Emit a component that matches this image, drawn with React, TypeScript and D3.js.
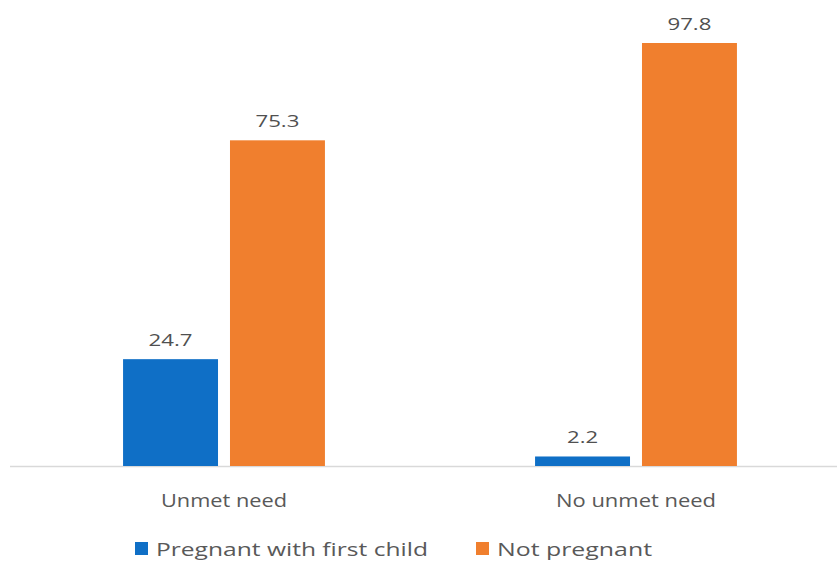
import React from "react";
import * as d3 from "d3";

const categories = ["Unmet need", "No unmet need"];
const seriesNames = ["Pregnant with first child", "Not pregnant"];
const pregnantValues = [24.7, 2.2];
const notPregnantValues = [75.3, 97.8];
const colors = ["#0F6FC6", "#F07F2E"];

export default function App() {
  const W = 837, H = 564;
  const baseY = 466;
  const x0 = d3.scaleBand().domain(categories).range([18, 842]).paddingInner(0.51).paddingOuter(0.255);
  const x1 = d3.scaleBand().domain(seriesNames).range([0, x0.bandwidth()]).paddingInner(0.112);
  const y = d3.scaleLinear().domain([0, 97.8]).range([baseY, 43]);
  const series = [pregnantValues, notPregnantValues];
  const font = "'Open Sans', sans-serif";
  const catWidths = [126, 160];
  return (
    <svg width={W} height={H} style={{ position: "absolute", left: 0, top: 0 }} fontFamily={font}>
      <rect width={W} height={H} fill="#fff" />
      <line x1={10} x2={837} y1={baseY + 0.5} y2={baseY + 0.5} stroke="#d9d9d9" strokeWidth={1.5} />
      {categories.map((c, ci) => (
        <g key={c} transform={`translate(${x0(c)},0)`}>
          {seriesNames.map((s, si) => {
            const v = series[si][ci];
            const bx = x1(s)!;
            const label = v.toFixed(1);
            const tw = label.length === 3 ? 31 : 44;
            return (
              <g key={s}>
                <rect x={bx} y={y(v)} width={x1.bandwidth()} height={baseY - y(v)} fill={colors[si]} />
                <text x={bx + x1.bandwidth() / 2 - tw / 2} y={y(v) - 13} fontSize={17} fill="#505050"
                  textLength={tw} lengthAdjust="spacingAndGlyphs">
                  {label}
                </text>
              </g>
            );
          })}
          <text x={x0.bandwidth() / 2 - catWidths[ci] / 2} y={507} fontSize={18} fill="#595959"
            textLength={catWidths[ci]} lengthAdjust="spacingAndGlyphs">{c}</text>
        </g>
      ))}
      <g>
        <rect x={135} y={542} width={13} height={13} fill={colors[0]} />
        <text x={156} y={556} fontSize={19} fill="#595959" textLength={272} lengthAdjust="spacingAndGlyphs">{seriesNames[0]}</text>
        <rect x={476} y={542} width={13} height={13} fill={colors[1]} />
        <text x={497} y={556} fontSize={19} fill="#595959" textLength={155} lengthAdjust="spacingAndGlyphs">{seriesNames[1]}</text>
      </g>
    </svg>
  );
}
